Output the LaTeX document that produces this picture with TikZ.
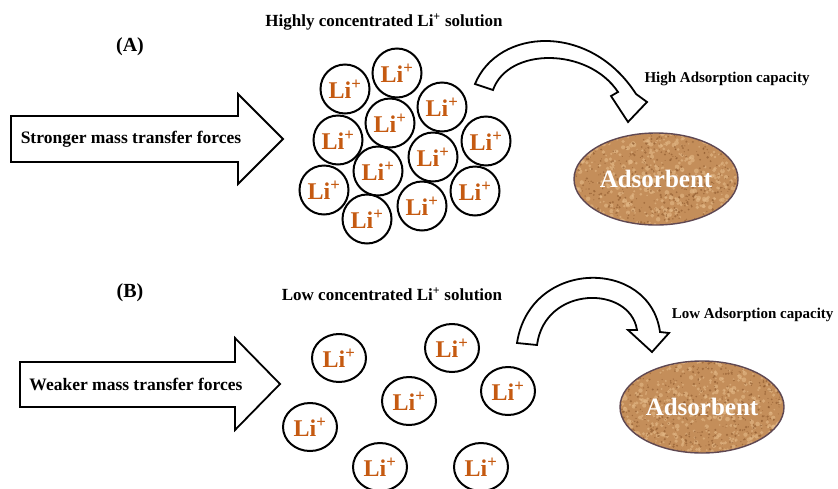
\documentclass[tikz,border=0pt]{standalone}
\usepackage{fontspec}
\setmainfont{Liberation Serif}
\usepackage{tikz}
\usetikzlibrary{shapes,arrows,positioning,calc}
\definecolor{liorange}{RGB}{197,90,17}
\definecolor{cork}{RGB}{196,142,90}
\definecolor{corkdark}{RGB}{145,92,48}
\definecolor{corklight}{RGB}{228,186,136}
\definecolor{corkrim}{RGB}{95,72,82}

\begin{document}
\begin{tikzpicture}[
    x=1pt, y=-1pt,
    ion/.style={circle, draw, line width=2pt, minimum size=49pt, inner sep=0pt, font=\fontsize{24}{24}\selectfont\bfseries, text=liorange},
    ionwide/.style={ion, ellipse, minimum width=54pt, minimum height=48pt},
    blockarrow/.style={draw, line width=1.8pt, fill=white, line join=miter},
    headtext/.style={font=\fontsize{17}{17}\selectfont\bfseries},
    tagtext/.style={font=\fontsize{20}{20}\selectfont\bfseries},
    capatext/.style={font=\fontsize{15}{15}\selectfont\bfseries},
    forcetext/.style={font=\fontsize{17.5}{17.5}\selectfont\bfseries},
    adsorbent/.style={ellipse, draw=corkrim, line width=1.4pt, fill=cork, minimum width=164pt, minimum height=92pt, inner sep=0pt,
        font=\fontsize{25}{25}\selectfont\bfseries, text=white,
        path picture={
            \foreach \k in {1,...,500}{
                \pgfmathsetmacro{\dx}{84*rand}
                \pgfmathsetmacro{\dy}{48*rand}
                \pgfmathsetmacro{\rr}{0.8+1.6*rnd}
                \fill[corklight, opacity=0.6] ([shift={(\dx pt,\dy pt)}]path picture bounding box.center) circle (\rr pt);
            }
            \foreach \k in {1,...,600}{
                \pgfmathsetmacro{\dx}{84*rand}
                \pgfmathsetmacro{\dy}{48*rand}
                \pgfmathsetmacro{\rr}{0.4+0.9*rnd}
                \fill[corkdark, opacity=0.65] ([shift={(\dx pt,\dy pt)}]path picture bounding box.center) circle (\rr pt);
            }
        }}
]
    \pgfmathsetseed{17}
    \useasboundingbox (0,0) rectangle (838,488);

    % (A) strong driving force
    \node[tagtext] (tagA) at (130,47) {(A)};
    \node[headtext] (headA) at (384,22) {Highly concentrated Li\textsuperscript{+} solution};
    \draw[blockarrow] (11,116) -- (238,116) -- (238,94) -- (283,139) -- (238,184) -- (238,162) -- (11,162) -- cycle;
    \node[forcetext] (strong) at (131,139) {Stronger mass transfer forces};

    \foreach \n/\x/\y in {t1/345/89, t2/397/73, t3/442/107, t4/338/140, t5/390/123, t6/486/141,
                          t7/433/157, t8/378/171, t9/324/190, t10/367/219, t11/422/206, t12/475/191}
        \node[ion] (\n) at (\x,\y) {Li\textsuperscript{+}};

    \draw[blockarrow] (475,84) .. controls (498,28) and (590,22) .. (636,94) -- (647,102) -- (628,122)
        -- (611,96) -- (618,92) .. controls (588,47) and (508,47) .. (493,90) -- cycle;
    \node[capatext] (capA) at (727,79) {High Adsorption capacity};
    \node[adsorbent] (ads1) at (656,179) {Adsorbent};

    % (B) weak driving force
    \node[tagtext] (tagB) at (130,293) {(B)};
    \node[headtext] (headB) at (392,294) {Low concentrated Li\textsuperscript{+} solution};
    \draw[blockarrow] (20,362) -- (235,362) -- (235,338) -- (280,384) -- (235,430) -- (235,407) -- (20,407) -- cycle;
    \node[forcetext] (weak) at (136,384) {Weaker mass transfer forces};

    \foreach \n/\x/\y in {b1/339/358, b2/452/348, b3/508/391, b4/409/401, b5/310/427, b6/380/467, b7/481/467}
        \node[ionwide] (\n) at (\x,\y) {Li\textsuperscript{+}};

    \draw[blockarrow] (517,343) .. controls (530,258) and (650,258) .. (660,332) -- (669,333) -- (652,352)
        -- (628,330) -- (637,330) .. controls (630,285) and (545,285) .. (537,345) -- cycle;
    \node[capatext, anchor=east] (capB) at (837,315) {Low Adsorption capacity};
    \node[adsorbent] (ads2) at (702,407) {Adsorbent};
\end{tikzpicture}
\end{document}
